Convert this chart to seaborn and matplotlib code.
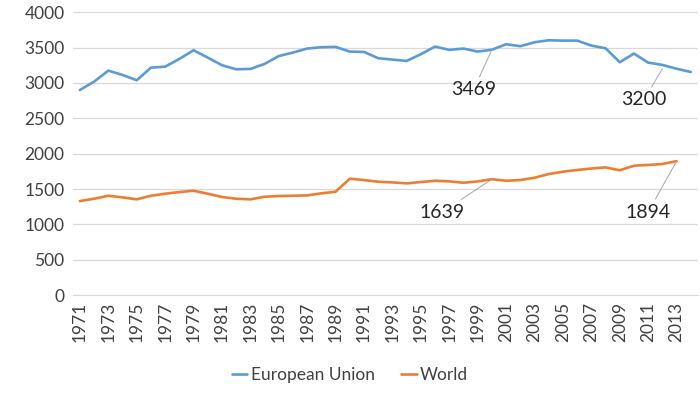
import numpy as np
import pandas as pd
import matplotlib
matplotlib.use("Agg")
import matplotlib.pyplot as plt
import seaborn as sns

# DATA
years_eu = list(range(1971, 2015))
eu_values = [2900, 3018, 3174, 3113, 3038, 3216, 3230, 3339, 3462, 3358,
             3250, 3193, 3198, 3269, 3380, 3429, 3486, 3505, 3509, 3443,
             3438, 3349, 3330, 3311, 3406, 3514, 3467, 3486, 3443, 3469,
             3547, 3519, 3575, 3603, 3598, 3598, 3528, 3490, 3292, 3415,
             3287, 3255, 3200, 3155]

years_world = list(range(1971, 2014))
world_values = [1330, 1363, 1405, 1382, 1354, 1405, 1434, 1457, 1476, 1434,
                1387, 1363, 1354, 1391, 1401, 1405, 1410, 1439, 1462, 1646,
                1627, 1603, 1594, 1580, 1599, 1617, 1608, 1589, 1608, 1639,
                1617, 1627, 1660, 1712, 1745, 1769, 1790, 1806, 1765, 1830,
                1840, 1854, 1894]

series_names = ["European Union", "World"]
series_colors = ["#5B9BD5", "#ED7D31"]

# labelled points: (year, value, text year, text value)
labels = [
    (2000, 3469, 1998.7, 2900),
    (2012, 3200, 2010.7, 2760),
    (2000, 1639, 1996.5, 1175),
    (2013, 1894, 2011.0, 1175),
]

df = pd.concat([
    pd.DataFrame({"year": years_eu, "value": eu_values, "series": series_names[0]}),
    pd.DataFrame({"year": years_world, "value": world_values, "series": series_names[1]}),
])

sns.set_style("white")
plt.rcParams["font.family"] = ["Lato", "DejaVu Sans"]

fig = plt.figure(figsize=(7, 3.93), dpi=100)
ax = fig.add_axes([0.104, 0.249, 0.893, 0.72])

sns.lineplot(data=df, x="year", y="value", hue="series",
             palette=dict(zip(series_names, series_colors)),
             linewidth=1.9, ax=ax, legend=False)

ax.set_xlim(1970.5, 2014.5)
ax.set_ylim(0, 4000)
ax.set_yticks(range(0, 4001, 500))
ax.set_xticks(range(1971, 2014, 2))
ax.set_xticklabels([str(y) for y in range(1971, 2014, 2)], rotation=90)
ax.tick_params(axis="both", length=0, labelsize=12.5, colors="#404040")
ax.tick_params(axis="x", pad=5)
ax.tick_params(axis="y", pad=6)
ax.set_xlabel("")
ax.set_ylabel("")
ax.grid(axis="y", color="#d9d9d9", linewidth=0.9)
ax.set_axisbelow(True)
for side in ["top", "right", "left"]:
    ax.spines[side].set_visible(False)
ax.spines["bottom"].set_color("#d9d9d9")

# data labels with leader lines
for yr, val, tx, ty in labels:
    ax.annotate(str(val), xy=(yr, val), xytext=(tx, ty),
                ha="center", va="center", fontsize=14, color="#262626",
                arrowprops=dict(arrowstyle="-", color="#a6a6a6", lw=0.7,
                                shrinkA=1, shrinkB=0))

handles = [plt.Line2D([0], [0], color=c, lw=1.9) for c in series_colors]
fig.legend(handles, series_names, loc="center", bbox_to_anchor=(0.5, 0.045),
           ncol=2, frameon=False, fontsize=12.5, handlelength=0.9,
           handletextpad=0.2, columnspacing=1.5, labelcolor="#404040")

fig.savefig("out.png", dpi=100)
